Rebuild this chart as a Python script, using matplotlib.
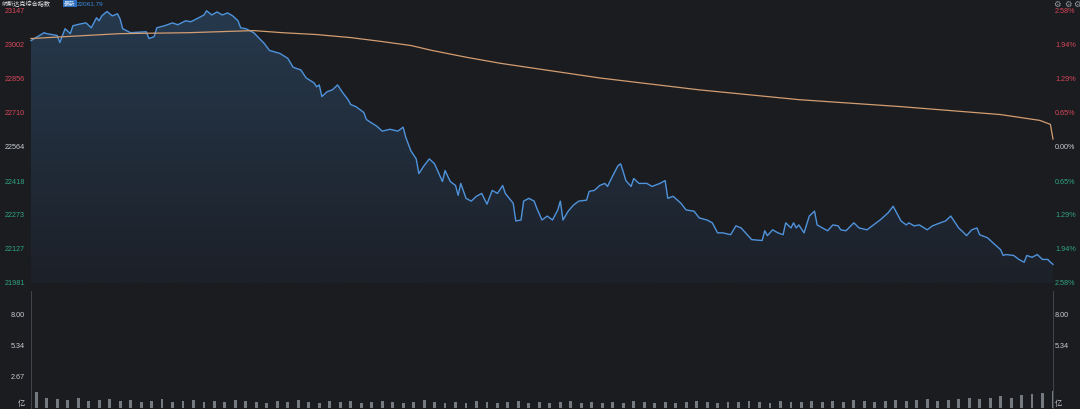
import numpy as np
import matplotlib
matplotlib.use("Agg")
import matplotlib.pyplot as plt
from matplotlib.colors import LinearSegmentedColormap

plt.rcParams['font.family'] = ['Liberation Sans', 'Noto Sans CJK SC', 'DejaVu Sans']

# ---------------- data ----------------
title = "纳斯达克综合指数"
prev_close = 22564
left_ticks = [23147, 23002, 22856, 22710, 22564, 22418, 22273, 22127, 21981]
right_ticks = ["2.58%", "1.94%", "1.29%", "0.65%", "0.00%", "0.65%", "1.29%", "1.94%", "2.58%"]
vol_ticks = [8.00, 5.34, 2.67]
vol_tick_labels = ["8.00", "5.34", "2.67"]

minutes = [0, 5, 6, 10, 11, 13, 15, 16, 19, 21, 23, 25, 26, 27, 29, 31, 33, 34, 35, 38,
           44, 45, 47, 48, 51, 54, 56, 59, 61, 64, 66, 67, 69, 71, 73, 75, 77, 79, 80, 82,
           85, 89, 91, 95, 98, 100, 103, 105, 108, 109, 110, 111, 113, 115, 117, 119, 121, 122, 124, 127,
           128, 129, 132, 134, 137, 140, 142, 143, 145, 147, 148, 150, 152, 154, 157, 158, 160, 162, 163, 164,
           166, 168, 170, 172, 174, 176, 178, 180, 181, 184, 185, 187, 188, 190, 192, 193, 195, 197, 199, 201,
           202, 203, 205, 207, 209, 212, 213, 215, 217, 219, 220, 222, 224, 225, 226, 227, 229, 230, 232, 235,
           237, 240, 242, 243, 245, 248, 250, 253, 255, 258, 260, 262, 264, 267, 269, 271, 275, 279, 280, 281,
           283, 285, 287, 288, 290, 291, 292, 293, 295, 297, 299, 300, 302, 304, 306, 308, 309, 311, 314, 316,
           319, 321, 324, 327, 329, 330, 332, 334, 335, 337, 339, 342, 344, 347, 349, 351, 352, 354, 356, 357,
           359, 361, 362, 365, 367, 370, 371, 372, 375, 377, 379, 380, 382, 384, 386, 388, 389, 390]

prices = [23020, 23054, 23050, 23042, 23012, 23071, 23050, 23084, 23092, 23096, 23075, 23118, 23105, 23126, 23145, 23126, 23135, 23113, 23071, 23054,
          23058, 23029, 23037, 23075, 23084, 23096, 23088, 23105, 23101, 23118, 23130, 23148, 23130, 23143, 23130, 23139, 23126, 23105, 23075, 23071,
          23054, 23008, 22978, 22965, 22944, 22906, 22894, 22860, 22839, 22822, 22830, 22780, 22801, 22809, 22830, 22796, 22767, 22746, 22737, 22712,
          22682, 22674, 22653, 22632, 22640, 22632, 22649, 22606, 22547, 22513, 22450, 22484, 22513, 22492, 22416, 22463, 22416, 22399, 22357, 22408,
          22344, 22332, 22353, 22365, 22319, 22378, 22365, 22399, 22365, 22323, 22247, 22251, 22332, 22344, 22332, 22302, 22251, 22268, 22251, 22294,
          22332, 22251, 22289, 22315, 22332, 22336, 22374, 22378, 22399, 22408, 22395, 22441, 22484, 22492, 22458, 22420, 22395, 22429, 22408, 22408,
          22395, 22408, 22420, 22344, 22353, 22323, 22294, 22289, 22260, 22251, 22239, 22196, 22196, 22188, 22226, 22217, 22167, 22163, 22205, 22184,
          22209, 22196, 22188, 22239, 22217, 22239, 22217, 22230, 22196, 22268, 22289, 22230, 22217, 22205, 22230, 22226, 22209, 22205, 22239, 22217,
          22209, 22226, 22251, 22281, 22310, 22289, 22247, 22230, 22239, 22226, 22230, 22209, 22226, 22239, 22247, 22268, 22251, 22217, 22196, 22184,
          22209, 22217, 22188, 22175, 22154, 22124, 22099, 22103, 22099, 22082, 22070, 22099, 22091, 22103, 22082, 22082, 22070, 22061]

avg_minutes = [0, 34, 60, 85, 96, 109, 122, 134, 145, 153, 166, 179, 217, 255, 293, 332, 370, 385, 389, 390]
avg_prices = [23029, 23050, 23054, 23063, 23054, 23046, 23033, 23016, 22999, 22978, 22949, 22923, 22860, 22809, 22767, 22737, 22703, 22678, 22661, 22598]

volumes = [1.4, 0.9, 0.8, 0.7, 0.9, 0.6, 0.7, 0.8, 0.6, 0.7, 0.5, 0.6, 0.8, 0.5, 0.6, 0.7, 0.5, 0.6, 0.5, 0.7,
           0.6, 0.5, 0.4, 0.6, 0.5, 0.7, 0.5, 0.4, 0.6, 0.5, 0.6, 0.4, 0.5, 0.6, 0.5, 0.4, 0.5, 0.7, 0.5, 0.4,
           0.5, 0.4, 0.6, 0.5, 0.4, 0.5, 0.6, 0.4, 0.5, 0.4, 0.5, 0.6, 0.4, 0.5, 0.4, 0.5, 0.4, 0.6, 0.5, 0.4,
           0.5, 0.4, 0.5, 0.6, 0.5, 0.4, 0.5, 0.5, 0.6, 0.5, 0.4, 0.6, 0.5, 0.5, 0.6, 0.5, 0.6, 0.5, 0.7, 0.6,
           0.5, 0.6, 0.7, 0.6, 0.7, 0.8, 0.6, 0.7, 0.8, 0.9, 0.8, 0.9, 1.0, 0.9, 1.1, 1.2, 1.3, 1.5]
vol_step = 4  # minutes per volume bar

# ---------------- style ----------------
BG = "#1b1c20"
LINE = "#4f93dc"
AVG = "#d39d72"
RED = "#d9475a"
GREEN = "#2fa57c"
GREY = "#c8ccd2"

W, H = 1080, 410
fig = plt.figure(figsize=(W / 100, H / 100), dpi=100, facecolor=BG)

def fx(px):
    return px / W

def fy(py):
    return 1 - py / H

x0, x1 = 31, 1053
ax = fig.add_axes([fx(x0), fy(284), fx(x1 - x0), fy(12) - fy(284)])
ax.set_facecolor(BG)
ax.set_xlim(0, 390)
ax.set_ylim(left_ticks[-1], left_ticks[0])
ax.axis("off")

# gradient fill under price line
ymin, ymax = left_ticks[-1], left_ticks[0]
poly = ax.fill_between(minutes, prices, ymin, color="none", lw=0)
cmap = LinearSegmentedColormap.from_list("f", ["#1c2028", "#26394d"])
grad = np.linspace(1, 0, 256).reshape(-1, 1)
im = ax.imshow(grad, extent=[0, 390, ymin, max(prices) + 5], aspect="auto", cmap=cmap,
               vmin=0, vmax=1, zorder=1)
im.set_clip_path(poly.get_paths()[0], transform=ax.transData)

ax.plot(minutes, prices, color=LINE, lw=1.0, zorder=3, clip_on=False)
ax.plot(avg_minutes, avg_prices, color=AVG, lw=0.9, zorder=4, clip_on=False)

# left / right tick labels
for i, (v, r) in enumerate(zip(left_ticks, right_ticks)):
    if v > prev_close:
        c = RED
    elif v < prev_close:
        c = GREEN
    else:
        c = GREY
    ax.text(-0.006, v, f"{v}", transform=ax.get_yaxis_transform(), ha="right", va="center",
            fontsize=5.2, color=c, clip_on=False)
    ax.text(1.002, v, r, transform=ax.get_yaxis_transform(), ha="left", va="center",
            fontsize=5.2, color=c, clip_on=False)

# volume panel
vax = fig.add_axes([fx(x0), fy(409), fx(x1 - x0), fy(290) - fy(409)])
vax.set_facecolor("none")
vax.set_xlim(0, 390)
vax.set_ylim(0, 119 / 11.63)
vax.axis("off")
vx = [i * vol_step + vol_step / 2 for i in range(len(volumes))]
vax.bar(vx, volumes, width=1.1, color="#9ca1aa", alpha=0.7, lw=0)
for v, lab in zip(vol_ticks, vol_tick_labels):
    vax.text(-0.006, v, lab, transform=vax.get_yaxis_transform(), ha="right", va="center",
             fontsize=5.2, color=GREY, clip_on=False)
for v, lab in zip(vol_ticks[:2], vol_tick_labels[:2]):
    vax.text(1.002, v, lab, transform=vax.get_yaxis_transform(), ha="left", va="center",
             fontsize=5.2, color=GREY, clip_on=False)
vax.text(-0.006, 0.45, "亿", transform=vax.get_yaxis_transform(), ha="right", va="center",
         fontsize=5.2, color=GREY, clip_on=False)
vax.text(1.002, 0.45, "亿", transform=vax.get_yaxis_transform(), ha="left", va="center",
         fontsize=5.2, color=GREY, clip_on=False)

# separators
fig.add_artist(plt.Line2D([fx(x0), fx(x0)], [fy(292), fy(410)], color="#4a4d55", lw=0.6))
fig.add_artist(plt.Line2D([fx(x1), fx(x1)], [fy(292), fy(410)], color="#4a4d55", lw=0.6))

# header
fig.text(fx(2), fy(4), title, ha="left", va="center", fontsize=4.4, color="#e6e6e6")
fig.text(fx(64), fy(4), "最新", ha="left", va="center", fontsize=4.2, color="#e6eef8",
         bbox=dict(boxstyle="square,pad=0.15", fc="#2d6fc0", ec="none"))
fig.text(fx(77), fy(4), "22061.79", ha="left", va="center", fontsize=4.6, color="#3b8be0")
for px in (1057, 1068, 1077):
    fig.text(fx(px), fy(4), "⚙", ha="center", va="center", fontsize=6,
             color="#9aa0a8", family=["DejaVu Sans"])

fig.savefig("out.png", dpi=100, facecolor=BG)
